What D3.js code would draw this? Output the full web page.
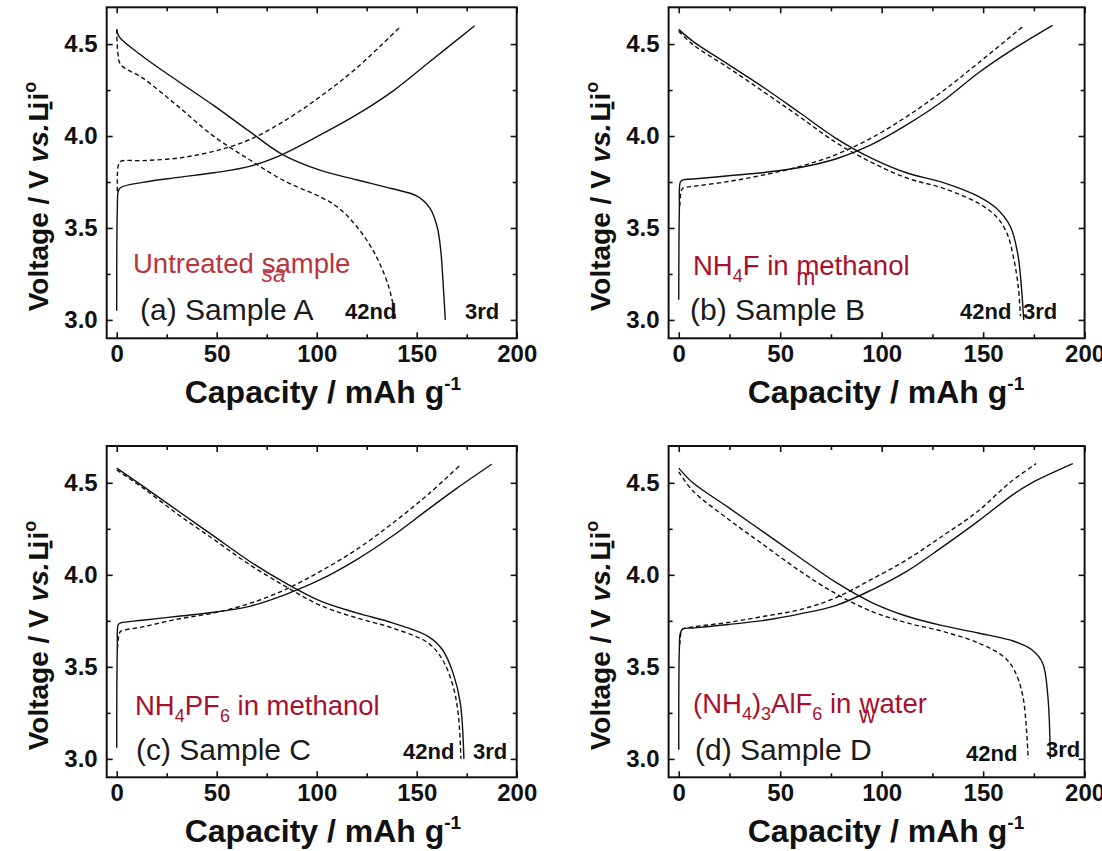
<!DOCTYPE html>
<html lang="en">
<head>
  <meta charset="UTF-8">
  <title>Charge / discharge curves</title>
  <script src="https://d3js.org/d3.v7.min.js"></script>
  <style>
    body {
      margin: 0;
      background: #fff;
      font-family: 'Liberation Sans', Arial, sans-serif;
    }
    .tick text {
      font-size: 24px;
      font-weight: bold;
      fill: #111;
    }
    .tick line {
      stroke: #111;
      stroke-width: 1.6px;
    }
    .frame {
      fill: none;
      stroke: #111;
      stroke-width: 2px;
    }
    .curve {
      fill: none;
      stroke: #111;
      stroke-width: 1.4px;
    }
    .dashed {
      stroke-dasharray: 4.5 3;
    }
  </style>
</head>
<body>
  <div id="chart"></div>

  <script>
    // axis ticks
    const xMajor = [0, 50, 100, 150, 200];
    const xMinor = [25, 75, 125, 175];
    const yMajor = [3.0, 3.5, 4.0, 4.5];
    const yMinor = [3.25, 3.75, 4.25];

    // [capacity mAh/g, voltage V]
    const chargeA3 = [[0,3.05],[0.3,3.6],[0.8,3.70],[2,3.72],[12.9,3.748],[30.7,3.775],[48.6,3.80],[66.4,3.835],[82.5,3.898],[102,4.007],[120,4.116],[137.9,4.243],[155.7,4.397],[179,4.60]];
    const dischargeA3 = [[0,4.58],[1.2,4.54],[12.9,4.434],[30.7,4.298],[48.6,4.165],[66.4,4.025],[82.5,3.902],[102,3.813],[120,3.762],[137.9,3.713],[150.4,3.672],[156.6,3.608],[160.2,3.508],[162,3.381],[163.2,3.2],[164.3,3.0]];
    const chargeA42 = [[0.3,3.70],[0.8,3.84],[2,3.862],[12.9,3.866],[30.7,3.88],[48.6,3.917],[66.4,3.98],[84.3,4.085],[102,4.216],[120,4.37],[142.3,4.6]];
    const dischargeA42 = [[0,4.58],[0.6,4.45],[2,4.388],[12.9,4.316],[30.7,4.161],[48.6,3.998],[66.4,3.871],[84.3,3.753],[102,3.668],[111,3.608],[120,3.508],[128.9,3.363],[136,3.181],[139.6,3.0]];

    const chargeB3 = [[0,3.11],[0.3,3.6],[0.8,3.75],[2,3.762],[7,3.766],[24.6,3.784],[42.2,3.802],[59.8,3.829],[77.3,3.875],[94.9,3.953],[112.5,4.062],[130,4.189],[147.6,4.343],[165.2,4.475],[184.2,4.602]];
    const dischargeB3 = [[0,4.58],[7,4.515],[24.6,4.388],[42.2,4.261],[59.8,4.125],[77.3,3.989],[94.9,3.88],[112.5,3.799],[130,3.748],[147.6,3.672],[156.4,3.608],[163.4,3.508],[167,3.363],[168.7,3.2],[170,3.0]];
    const chargeB42 = [[0.5,3.62],[1.2,3.70],[2,3.717],[7,3.726],[24.6,3.753],[42.2,3.789],[59.8,3.835],[77.3,3.898],[94.9,3.989],[112.5,4.107],[130,4.243],[147.6,4.397],[170.1,4.6]];
    const dischargeB42 = [[0,4.57],[7,4.497],[24.6,4.37],[42.2,4.238],[59.8,4.103],[77.3,3.966],[94.9,3.857],[112.5,3.771],[130,3.717],[147.6,3.635],[156.4,3.563],[161.7,3.472],[165.2,3.327],[167.3,3.181],[168.4,3.02]];

    const chargeC3 = [[0,3.06],[0.3,3.6],[0.8,3.73],[2,3.739],[12.9,3.753],[30.7,3.775],[48.6,3.797],[66.4,3.829],[84.3,3.893],[102,3.975],[120,4.083],[137.9,4.211],[155.7,4.356],[170,4.47],[187.5,4.601]];
    const dischargeC3 = [[0,4.58],[12.9,4.483],[30.7,4.347],[48.6,4.21],[66.4,4.074],[84.3,3.956],[102,3.857],[120,3.793],[137.9,3.739],[155.7,3.666],[162.9,3.593],[168.2,3.466],[171.8,3.303],[173.6,3.0]];
    const chargeC42 = [[0.4,3.60],[1.2,3.68],[2,3.693],[12.9,3.717],[30.7,3.76],[48.6,3.793],[66.4,3.844],[84.3,3.92],[102,4.02],[120,4.138],[137.9,4.28],[155.7,4.437],[172.1,4.6]];
    const dischargeC42 = [[0,4.57],[12.9,4.474],[30.7,4.328],[48.6,4.192],[66.4,4.056],[84.3,3.938],[102,3.833],[120,3.766],[137.9,3.711],[155.7,3.63],[162.9,3.539],[168.2,3.394],[170.9,3.23],[172.1,3.0]];

    const chargeD3 = [[0,3.05],[0.3,3.6],[0.8,3.684],[2,3.706],[7,3.711],[24.6,3.73],[42.2,3.753],[59.8,3.788],[77.3,3.833],[94.9,3.917],[112.5,4.02],[130,4.152],[147.6,4.292],[165.2,4.44],[174,4.50],[194.2,4.604]];
    const dischargeD3 = [[0,4.58],[7,4.5],[24.6,4.365],[42.2,4.229],[59.8,4.093],[77.3,3.96],[94.9,3.851],[112.5,3.775],[130,3.724],[147.6,3.684],[165.2,3.639],[174,3.593],[179.3,3.521],[181.9,3.339],[183.1,3.0]];
    const chargeD42 = [[0.5,3.62],[1.2,3.69],[2,3.706],[7,3.717],[24.6,3.742],[42.2,3.775],[59.8,3.811],[77.3,3.875],[94.9,3.975],[112.5,4.083],[130,4.211],[147.6,4.347],[163,4.50],[176.1,4.604]];
    const dischargeD42 = [[0,4.56],[7,4.456],[24.6,4.301],[42.2,4.16],[59.8,4.02],[77.3,3.898],[94.9,3.802],[112.5,3.739],[130,3.693],[147.6,3.63],[159.9,3.557],[165.2,3.485],[169.6,3.339],[172.2,3.0]];

    const sampleLabels = ["(a) Sample A", "(b) Sample B", "(c) Sample C", "(d) Sample D"];
    const cycleLabels = ["42nd", "3rd"];

    const W = 1102, H = 851;
    const svg = d3.select("#chart").append("svg")
      .attr("width", W)
      .attr("height", H);

    // panel boxes in page pixels
    const panels = [
      { left: 106.7, right: 516.7, top: 7.3, bottom: 338.3,
        solid: [chargeA3, dischargeA3], dash: [chargeA42, dischargeA42],
        label: sampleLabels[0], lx: 140, ly: 320,
        c42: [345, 319], c3: [465, 319], note: "a" },
      { left: 668.6, right: 1084.6, top: 7.3, bottom: 338.3,
        solid: [chargeB3, dischargeB3], dash: [chargeB42, dischargeB42],
        label: sampleLabels[1], lx: 690, ly: 320,
        c42: [960, 319], c3: [1023, 319], note: "b" },
      { left: 106.7, right: 516.7, top: 446, bottom: 777.3,
        solid: [chargeC3, dischargeC3], dash: [chargeC42, dischargeC42],
        label: sampleLabels[2], lx: 136, ly: 760,
        c42: [403, 759], c3: [473, 759], note: "c" },
      { left: 668.6, right: 1084.6, top: 446, bottom: 777.3,
        solid: [chargeD3, dischargeD3], dash: [chargeD42, dischargeD42],
        label: sampleLabels[3], lx: 695, ly: 760,
        c42: [966, 761], c3: [1046, 757], note: "d" }
    ];

    panels.forEach(p => {
      const x = d3.scaleLinear().domain([-5, 200]).range([p.left, p.right]);
      const y = d3.scaleLinear().domain([2.9, 4.7]).range([p.bottom, p.top]);
      const g = svg.append("g");

      // inward ticks on all four sides
      const addAxis = (axis, tr, size, labels) => {
        const a = g.append("g").attr("transform", tr).call(axis.tickSizeInner(size).tickSizeOuter(0));
        a.select(".domain").remove();
        if (!labels) a.selectAll("text").remove();
        return a;
      };
      const bottom = `translate(0,${p.bottom})`, top = `translate(0,${p.top})`;
      const left = `translate(${p.left},0)`, right = `translate(${p.right},0)`;

      addAxis(d3.axisBottom(x).tickValues(xMajor).tickFormat(d3.format("d")).tickPadding(7), bottom, -6, true);
      addAxis(d3.axisBottom(x).tickValues(xMinor), bottom, -4, false);
      addAxis(d3.axisTop(x).tickValues(xMajor), top, -6, false);
      addAxis(d3.axisTop(x).tickValues(xMinor), top, -4, false);
      addAxis(d3.axisLeft(y).tickValues(yMajor).tickFormat(d3.format(".1f")).tickPadding(9), left, -6, true);
      addAxis(d3.axisLeft(y).tickValues(yMinor), left, -4, false);
      addAxis(d3.axisRight(y).tickValues(yMajor), right, -6, false);
      addAxis(d3.axisRight(y).tickValues(yMinor), right, -4, false);

      g.append("rect").attr("class", "frame")
        .attr("x", p.left).attr("y", p.top)
        .attr("width", p.right - p.left).attr("height", p.bottom - p.top);

      const line = d3.line()
        .x(d => x(d[0])).y(d => y(d[1]))
        .curve(d3.curveCatmullRom.alpha(0.5));

      p.dash.forEach(s => g.append("path").attr("class", "curve dashed").attr("d", line(s)));
      p.solid.forEach(s => g.append("path").attr("class", "curve").attr("d", line(s)));

      // axis titles
      const xt = g.append("text")
        .attr("x", x(34)).attr("y", p.bottom + 65)
        .style("font-size", "32px").style("font-weight", "bold").attr("fill", "#111");
      xt.append("tspan").text("Capacity / mAh g");
      xt.append("tspan").attr("dy", -13).style("font-size", "19px").text("-1");

      const cx = p.left - 59, cy = p.bottom - 27;
      const yt = g.append("text")
        .attr("transform", `translate(${cx},${cy}) rotate(-90)`)
        .style("font-size", "28px").style("font-weight", "bold").attr("fill", "#111");
      yt.append("tspan").text("Voltage / V ");
      yt.append("tspan").style("font-style", "italic").text("vs.");
      yt.append("tspan").attr("dx", 2).text("L");
      yt.append("tspan").attr("dx", -5).style("text-decoration", "underline").text("i");
      yt.append("tspan").attr("dx", 1).text("i");
      yt.append("tspan").attr("dy", -12).style("font-size", "18px").text("o");

      g.append("text").attr("x", p.lx).attr("y", p.ly)
        .style("font-size", "30px").attr("fill", "#1a1a1a").text(p.label);

      g.append("text").attr("x", p.c42[0]).attr("y", p.c42[1])
        .style("font-size", "22px").style("font-weight", "bold").attr("fill", "#111").text(cycleLabels[0]);
      g.append("text").attr("x", p.c3[0]).attr("y", p.c3[1])
        .style("font-size", "22px").style("font-weight", "bold").attr("fill", "#111").text(cycleLabels[1]);

      // treatment notes in red
      const red = p.note === "a" ? "#bb343c" : "#a8102e";
      const nt = g.append("text").style("font-size", "27.5px").attr("fill", red);
      const sub = (t, shift, size) => nt.append("tspan").attr("dy", shift).style("font-size", size || "18px").text(t);
      if (p.note === "a") {
        nt.attr("x", 133).attr("y", 273);
        nt.append("tspan").text("Untreated ");
        sub("sa", 9, "23px").style("font-style", "italic");
        nt.append("tspan").attr("dx", -24).attr("dy", -9).text("sample");
      } else if (p.note === "b") {
        nt.attr("x", 693).attr("y", 275);
        nt.append("tspan").text("NH");
        sub("4", 7);
        nt.append("tspan").attr("dy", -7).text("F in ");
        sub("m", 10, "23px");
        nt.append("tspan").attr("dx", -19).attr("dy", -10).text("methanol");
      } else if (p.note === "c") {
        nt.attr("x", 135).attr("y", 715);
        nt.append("tspan").text("NH");
        sub("4", 7);
        nt.append("tspan").attr("dy", -7).text("PF");
        sub("6", 7);
        nt.append("tspan").attr("dy", -7).text(" in methanol");
      } else {
        nt.attr("x", 693).attr("y", 713);
        nt.append("tspan").text("(NH");
        sub("4", 7);
        nt.append("tspan").attr("dy", -7).text(")");
        sub("3", 7);
        nt.append("tspan").attr("dy", -7).text("AlF");
        sub("6", 7);
        nt.append("tspan").attr("dy", -7).text(" in ");
        sub("w", 10, "23px");
        nt.append("tspan").attr("dx", -16).attr("dy", -10).text("water");
      }
    });
  </script>
</body>
</html>
